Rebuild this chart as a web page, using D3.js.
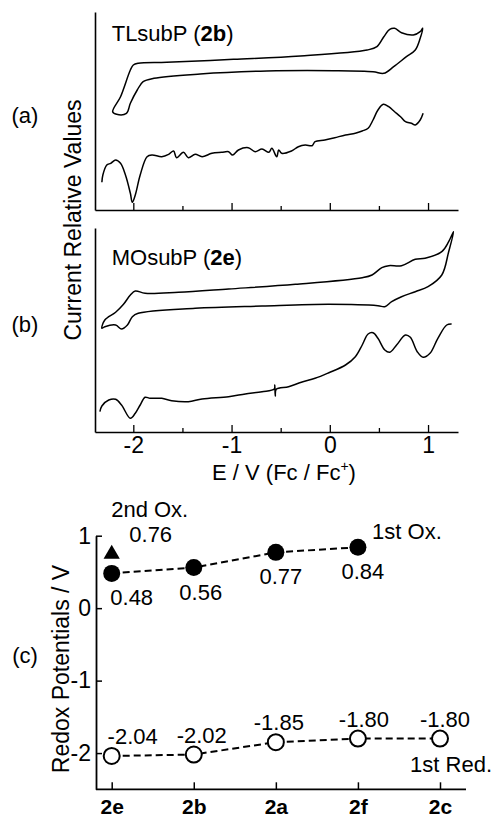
<!DOCTYPE html>
<html>
<head>
<meta charset="utf-8">
<script src="https://cdn.jsdelivr.net/npm/d3@7"></script>
<style>
  body { margin: 0; background: #fff; }
  svg { display: block; font-family: "Liberation Sans", Arial, sans-serif; }
</style>
</head>
<body>
<div id="chart"></div>
<script>
// ---- data (E in V vs Fc/Fc+, current in relative units) ----
const cvA = [
  [-2.21, 98.3], [-2.13, 113.3], [-2.03, 140], [-2.00, 145], [-1.95, 146.7], [-1.66, 147.7],
  [-0.98, 150.7], [-0.30, 154], [0.38, 160], [0.48, 163.3], [0.55, 173.3], [0.61, 180.7],
  [0.66, 181.7], [0.73, 177.3], [0.85, 175], [0.92, 178.3], [0.945, 181.7], [0.92, 171.7],
  [0.87, 160], [0.78, 153.3], [0.65, 143.3], [0.55, 136.7], [0.44, 138.3], [0.04, 139.3],
  [-0.64, 139], [-1.32, 136], [-1.79, 131.7], [-1.90, 128.3], [-1.96, 120], [-2.03, 106.7],
  [-2.07, 96.7], [-2.17, 95.7]
];
const dpvA = [
  [-2.32, 27.7], [-2.31, 35], [-2.27, 45], [-2.23, 46.7], [-2.18, 50], [-2.13, 46.7],
  [-2.08, 35], [-2.03, 16.7], [-2.01, 7.7], [-1.98, 15], [-1.93, 35], [-1.86, 53.3],
  [-1.81, 55], [-1.71, 53.3], [-1.64, 55.7], [-1.59, 59], [-1.56, 52.3], [-1.49, 57.7],
  [-1.44, 52.3], [-1.37, 55.7], [-1.30, 53.3], [-1.20, 56.7], [-1.10, 57.7], [-1.03, 58.3],
  [-0.99, 55], [-0.93, 60], [-0.83, 62.3], [-0.76, 58.3], [-0.69, 61], [-0.62, 57.7],
  [-0.59, 61.7], [-0.54, 53.3], [-0.52, 60], [-0.49, 56.7], [-0.39, 59], [-0.32, 63.3],
  [-0.25, 65], [-0.18, 64.3], [-0.15, 68.3], [-0.05, 70], [0.05, 72.3], [0.16, 75],
  [0.26, 76.7], [0.33, 79], [0.39, 81.7], [0.44, 90], [0.49, 100], [0.545, 105.7],
  [0.60, 103.3], [0.66, 98.3], [0.72, 93.3], [0.77, 88.3], [0.83, 86.7], [0.87, 85],
  [0.92, 90], [0.95, 96.7]
];
const cvB = [
  [-2.32, 103.7], [-2.29, 112], [-2.18, 119.7], [-2.10, 127.7], [-2.03, 137], [-1.98, 141],
  [-1.88, 138.7], [-1.54, 139.7], [-1.03, 143], [-0.35, 147.7], [0.33, 154.3], [0.43, 157],
  [0.53, 164.3], [0.60, 166.3], [0.73, 166.3], [0.87, 172.7], [0.97, 173.7], [1.14, 180.3],
  [1.21, 190.3], [1.26, 200.3], [1.21, 180.3], [1.14, 157], [1.00, 145.3], [0.87, 140.3],
  [0.73, 135.3], [0.63, 130.3], [0.56, 125.3], [0.49, 126.3], [-0.01, 127.7], [-0.69, 126],
  [-1.37, 123.7], [-1.95, 118.7], [-2.01, 115.3], [-2.06, 107], [-2.12, 103], [-2.18, 107],
  [-2.29, 105.3]
];
const dpvB = [
  [-2.34, 20.3], [-2.32, 26], [-2.25, 32], [-2.18, 32.7], [-2.12, 27], [-2.03, 13.7],
  [-1.98, 18.7], [-1.93, 27], [-1.88, 34.7], [-1.83, 33.7], [-1.71, 33.7], [-1.61, 31.3],
  [-1.44, 30.3], [-1.30, 33], [-1.03, 35.3], [-0.86, 38], [-0.69, 40.3], [-0.565, 43],
  [-0.56, 47], [-0.555, 36], [-0.545, 42.7], [-0.42, 45.3], [-0.29, 49.7], [-0.15, 53.7],
  [-0.01, 59.3], [0.16, 67], [0.26, 75.3], [0.33, 87], [0.39, 98], [0.44, 99.3],
  [0.49, 93.7], [0.56, 82], [0.61, 79.7], [0.68, 87], [0.77, 97], [0.82, 94.7],
  [0.89, 80.3], [0.95, 74.7], [1.02, 78.7], [1.10, 93.7], [1.19, 107], [1.24, 108]
];

const eMajor = [-2, -1, 0, 1];
const eMinor = [-1.5, -0.5, 0.5];

const compounds = ["2e", "2b", "2a", "2f", "2c"];
const firstOx = [0.48, 0.56, 0.77, 0.84];        // 2e, 2b, 2a, 2f
const secondOx = [0.76];                        // 2e
const firstRed = [-2.04, -2.02, -1.85, -1.80, -1.80];
const potTicks = [1, 0, -1, -2];

// ---- layout ----
const W = 493, H = 819;
const font = 22;
const oxDx = [20, 7, 5, 5];
const redDx = [21, 8, 3, 6, 5];

const svg = d3.select("#chart").append("svg")
  .attr("width", W).attr("height", H);

const x = d3.scaleLinear().domain([-2.39, 1.305]).range([95, 458]);
const yA = d3.scaleLinear().domain([0, 198]).range([210, 12]);
const yB = d3.scaleLinear().domain([0, 204]).range([432, 228]);

const intFmt = d => String(d);          // plain hyphen like the original
const fmt = d => d.toFixed(2);

function cvPanel(yScale, cv, dpv, title, bold, titleY) {
  const g = svg.append("g");

  g.append("path")
    .datum(cv)
    .attr("fill", "none").attr("stroke", "#000").attr("stroke-width", 1.5)
    .attr("d", d3.line().x(d => x(d[0])).y(d => yScale(d[1])).curve(d3.curveCatmullRomClosed.alpha(0.5)));

  g.append("path")
    .datum(dpv)
    .attr("fill", "none").attr("stroke", "#000").attr("stroke-width", 1.5)
    .attr("d", d3.line().x(d => x(d[0])).y(d => yScale(d[1])).curve(d3.curveCatmullRom.alpha(0.5)));

  // y axis line (no ticks)
  g.append("g")
    .attr("transform", `translate(${x.range()[0]},0)`)
    .call(d3.axisLeft(yScale).tickValues([]).tickSizeOuter(0))
    .select(".domain").attr("stroke-width", 1.6);

  const y0 = yScale.range()[0];
  const ax = g.append("g").attr("transform", `translate(0,${y0})`);
  ax.call(d3.axisBottom(x).tickValues(eMajor).tickFormat(intFmt)
    .tickSizeInner(-7).tickSizeOuter(0).tickPadding(5));
  ax.select(".domain").attr("stroke-width", 1.6);
  ax.selectAll(".tick line").attr("stroke-width", 1.3);

  const mn = g.append("g").attr("transform", `translate(0,${y0})`);
  mn.call(d3.axisBottom(x).tickValues(eMinor).tickSizeInner(-4).tickSizeOuter(0).tickFormat(""));
  mn.select(".domain").remove();
  mn.selectAll(".tick line").attr("stroke-width", 1.3);

  const t = g.append("text")
    .attr("x", x(-2.22)).attr("y", titleY)
    .attr("font-size", font);
  t.append("tspan").text(title + " (");
  t.append("tspan").attr("font-weight", "bold").text(bold);
  t.append("tspan").text(")");
  return ax;
}

const axA = cvPanel(yA, cvA, dpvA, "TLsubP", "2b", 41);
axA.selectAll(".tick text").remove();

const axB = cvPanel(yB, cvB, dpvB, "MOsubP", "2e", 265);
axB.selectAll(".tick text")
  .attr("font-size", 23).attr("font-family", "inherit").attr("fill", "#000");

// x title
const xt = svg.append("text")
  .attr("x", 284).attr("y", 480)
  .attr("text-anchor", "middle").attr("font-size", font);
xt.append("tspan").text("E / V (Fc / Fc");
xt.append("tspan").attr("font-size", 14).attr("dy", -9).text("+");
xt.append("tspan").attr("dy", 9).text(")");

// shared y title for (a) and (b)
svg.append("text")
  .attr("transform", "translate(81,220) rotate(-90)")
  .attr("text-anchor", "middle").attr("font-size", 23)
  .text("Current Relative Values");

// panel letters
[["(a)", 123], ["(b)", 332], ["(c)", 663]].forEach(([s, yy]) => {
  svg.append("text").attr("x", 25).attr("y", yy)
    .attr("text-anchor", "middle").attr("font-size", font).text(s);
});

// ---- panel (c) ----
const xc = d3.scalePoint().domain(compounds).range([111.7, 440]);
const yc = d3.scaleLinear().domain([-2.5, 1]).range([789.3, 535.7]);
const gc = svg.append("g");

const yAx = gc.append("g").attr("transform", "translate(96,0)")
  .call(d3.axisLeft(yc).tickValues(potTicks).tickFormat(intFmt)
    .tickSizeInner(-6).tickSizeOuter(0).tickPadding(5));
yAx.select(".domain").attr("stroke-width", 1.8);
yAx.selectAll(".tick line").attr("stroke-width", 1.5);
yAx.selectAll(".tick text").attr("font-size", 23).attr("font-family", "inherit").attr("fill", "#000");

const xAx = gc.append("g").attr("transform", `translate(0,${yc(-2.5)})`)
  .call(d3.axisBottom(xc).tickSizeInner(-7).tickSizeOuter(0).tickPadding(10));
xAx.select(".domain").remove();
xAx.selectAll(".tick line").attr("stroke-width", 1.5);
xAx.selectAll(".tick text").attr("font-size", 21).attr("font-weight", "bold")
  .attr("font-family", "inherit").attr("fill", "#000");
gc.append("line")
  .attr("x1", 96).attr("x2", 466)
  .attr("y1", yc(-2.5)).attr("y2", yc(-2.5))
  .attr("stroke", "#000").attr("stroke-width", 1.8);

gc.append("text")
  .attr("transform", "translate(69,669) rotate(-90)")
  .attr("text-anchor", "middle").attr("font-size", 23)
  .text("Redox Potentials / V");

const oxPts = firstOx.map((v, i) => [compounds[i], v]);
const redPts = firstRed.map((v, i) => [compounds[i], v]);
const lineC = d3.line().x(d => xc(d[0])).y(d => yc(d[1]));

gc.append("path").datum(oxPts)
  .attr("fill", "none").attr("stroke", "#000").attr("stroke-width", 2)
  .attr("stroke-dasharray", "7,4").attr("d", lineC);
gc.append("path").datum(redPts)
  .attr("fill", "none").attr("stroke", "#000").attr("stroke-width", 2)
  .attr("stroke-dasharray", "7,4").attr("d", lineC);

gc.selectAll(".ox").data(oxPts).join("circle")
  .attr("cx", d => xc(d[0])).attr("cy", d => yc(d[1])).attr("r", 8.5)
  .attr("fill", "#000");
gc.selectAll(".red").data(redPts).join("circle")
  .attr("cx", d => xc(d[0])).attr("cy", d => yc(d[1])).attr("r", 8)
  .attr("fill", "#fff").attr("stroke", "#000").attr("stroke-width", 2);

gc.selectAll(".ox2").data(secondOx).join("path")
  .attr("transform", (d, i) => `translate(${xc(compounds[i])},${yc(d) + 1})`)
  .attr("d", d3.symbol().type(d3.symbolTriangle).size(115))
  .attr("fill", "#000");

gc.selectAll(".oxlab").data(oxPts).join("text")
  .attr("x", (d, i) => xc(d[0]) + oxDx[i]).attr("y", d => yc(d[1]) + 32)
  .attr("text-anchor", "middle").attr("font-size", font)
  .text(d => fmt(d[1]));
gc.selectAll(".redlab").data(redPts).join("text")
  .attr("x", (d, i) => xc(d[0]) + redDx[i]).attr("y", d => yc(d[1]) - 12)
  .attr("text-anchor", "middle").attr("font-size", font)
  .text(d => fmt(d[1]));
gc.selectAll(".ox2lab").data(secondOx).join("text")
  .attr("x", (d, i) => xc(compounds[i]) + 39).attr("y", d => yc(d) - 11)
  .attr("text-anchor", "middle").attr("font-size", font)
  .text(d => fmt(d));

// series names
gc.append("text")
  .attr("x", xc(compounds[0]) + 38).attr("y", yc(secondOx[0]) - 36)
  .attr("text-anchor", "middle").attr("font-size", font).text("2nd Ox.");
gc.append("text")
  .attr("x", xc(compounds[3]) + 49).attr("y", yc(firstOx[3]) - 8)
  .attr("text-anchor", "middle").attr("font-size", font).text("1st Ox.");
gc.append("text")
  .attr("x", 492).attr("y", yc(firstRed[4]) + 33)
  .attr("text-anchor", "end").attr("font-size", font).text("1st Red.");
</script>
</body>
</html>
